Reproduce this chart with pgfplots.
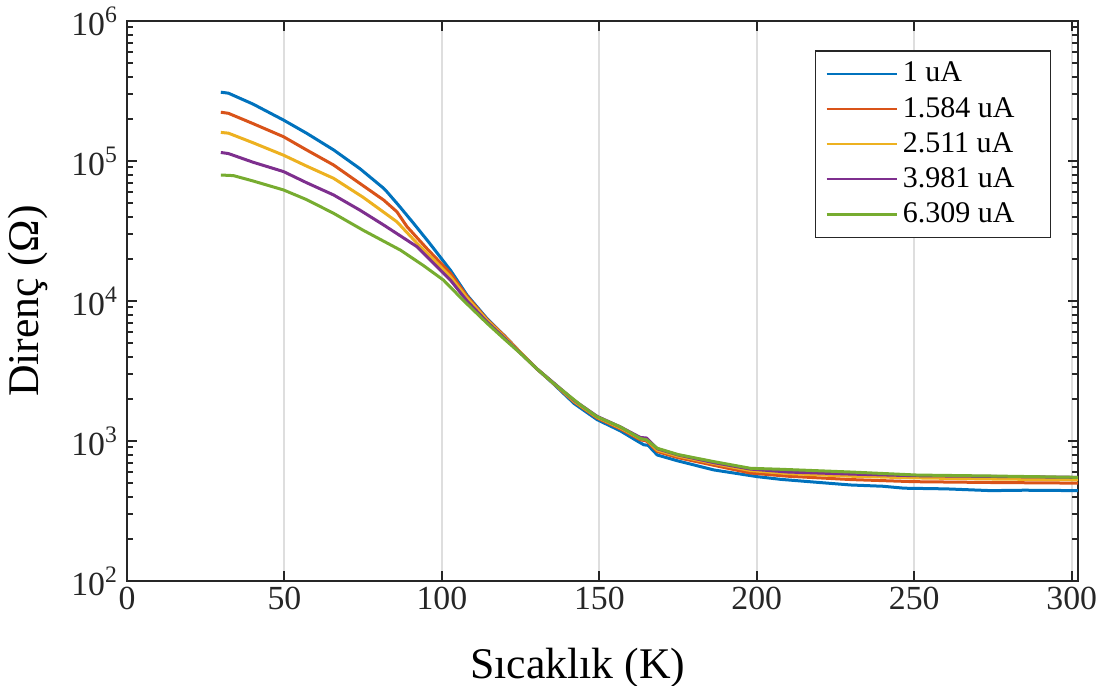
\documentclass[border=0pt]{standalone}
\usepackage{fontspec}
\setmainfont{Liberation Serif}
\usepackage{pgfplots}
\pgfplotsset{compat=1.18}
\definecolor{mblue}{HTML}{0072BD}
\definecolor{mred}{HTML}{D95319}
\definecolor{myellow}{HTML}{EDB120}
\definecolor{mpurple}{HTML}{7E2F8E}
\definecolor{mgreen}{HTML}{77AC30}
\definecolor{axgray}{HTML}{262626}
\newcommand{\lent}[1]{\makebox[53pt][l]{#1}}

\begin{document}
\begin{tikzpicture}
\begin{axis}[
  scale only axis,
  width=380.4pt, height=224pt,
  ymode=log,
  xmin=0, xmax=302,
  ymin=1e2, ymax=1e6,
  xtick={0,50,100,150,200,250,300},
  ytick={1e2,1e3,1e4,1e5,1e6},
  yticklabels={10\textsuperscript{2},10\textsuperscript{3},10\textsuperscript{4},10\textsuperscript{5},10\textsuperscript{6}},
  /pgf/number format/assume math mode=true,
  tick label style={font=\fontsize{13.5}{15}\selectfont, text=axgray},
  xticklabel style={yshift=1pt},
  xmajorgrids,
  major grid style={draw=black!13, line width=0.8pt},
  tick align=inside,
  major tick length=4pt,
  minor tick length=2.5pt,
  every tick/.style={axgray, line width=0.8pt},
  axis line style={axgray, line width=1pt},
  xlabel={Sıcaklık (K)},
  ylabel={Direnç (Ω)},
  label style={font=\fontsize{17.5}{20}\selectfont},
  xlabel style={at={(axis description cs:0.474,-0.174)}, anchor=base},
  ylabel style={at={(axis description cs:-0.104,0.5)}, anchor=center},
  legend style={at={(rel axis cs:0.9716,0.948)}, anchor=north east,
    font=\fontsize{12}{15.2}\selectfont, draw=axgray, line width=0.6pt,
    inner xsep=4pt, inner ysep=2.5pt, row sep=0.6pt},
  legend cell align=left,
  legend image code/.code={\draw[#1, line width=0.9pt] (0cm,0cm) -- (28pt,0cm);},
  every axis plot/.append style={line width=1.2pt, line join=round},
]
\addplot[mblue] coordinates {
(29.8,3.10e5) (32.2,3.05e5) (40,2.55e5) (49.7,1.96e5) (57,1.58e5) (65.6,1.20e5)
(74,8.8e4) (81.5,6.38e4) (82.5,6.04e4) (86,4.9e4) (90.9,3.61e4) (96,2.6e4)
(102.7,1.66e4) (108,1.1e4) (114.3,7.5e3) (120,5.6e3) (124.9,4.3e3) (130,3.3e3)
(135.5,2.55e3) (142,1.85e3) (149.3,1.42e3) (156.7,1.18e3) (162,1.0e3) (164.1,9.4e2)
(165.5,9.3e2) (168.4,7.94e2) (175,7.2e2) (186.4,6.21e2) (200.2,5.56e2) (207.6,5.32e2)
(220,5.05e2) (229.8,4.85e2) (240,4.75e2) (246.8,4.6e2) (260,4.55e2) (274.3,4.42e2)
(285,4.45e2) (302,4.42e2)
};
\addlegendentry{\lent{1 uA}}
\addplot[mred] coordinates {
(29.8,2.23e5) (32.2,2.19e5) (40,1.85e5) (49.7,1.49e5) (57,1.2e5) (65.6,9.36e4)
(74,6.9e4) (81.5,5.26e4) (85.7,4.34e4) (88.9,3.4e4) (95,2.4e4) (102.7,1.58e4)
(108,1.08e4) (114.3,7.4e3) (120,5.6e3) (124.9,4.3e3) (130,3.3e3) (135.5,2.57e3)
(142,1.9e3) (149.3,1.46e3) (156.7,1.22e3) (163,1.02e3) (165,1.0e3) (168.4,8.4e2)
(175,7.6e2) (186.4,6.7e2) (198,5.9e2) (210,5.6e2) (230,5.3e2) (250,5.12e2)
(275,5.05e2) (302,5.0e2)
};
\addlegendentry{\lent{1.584 uA}}
\addplot[myellow] coordinates {
(29.8,1.60e5) (32.2,1.58e5) (40,1.35e5) (49.7,1.10e5) (57,9.2e4) (65.6,7.52e4)
(75,5.5e4) (85.7,3.68e4) (92,2.6e4) (102.7,1.49e4) (108,1.05e4) (114.3,7.3e3)
(120,5.5e3) (124.9,4.3e3) (130,3.3e3) (135.5,2.58e3) (142,1.92e3) (149.3,1.48e3)
(156.7,1.24e3) (163,1.04e3) (165,1.02e3) (168.4,8.6e2) (175,7.8e2) (186.4,6.9e2)
(198,6.15e2) (210,5.85e2) (230,5.6e2) (250,5.45e2) (275,5.35e2) (302,5.28e2)
};
\addlegendentry{\lent{2.511 uA}}
\addplot[mpurple] coordinates {
(29.8,1.15e5) (32.2,1.13e5) (40,9.8e4) (49.7,8.4e4) (57,7.0e4) (65.6,5.72e4)
(74,4.45e4) (81.5,3.49e4) (87,2.9e4) (92.1,2.44e4) (102.7,1.41e4) (108,1.0e4)
(114.3,7.1e3) (120,5.4e3) (124.9,4.25e3) (130,3.3e3) (135.5,2.6e3) (142,1.95e3)
(149.3,1.5e3) (156.7,1.26e3) (163,1.06e3) (165,1.05e3) (168.4,8.8e2) (175,7.95e2)
(186.4,7.0e2) (198,6.3e2) (210,6.0e2) (230,5.8e2) (250,5.65e2) (275,5.58e2)
(302,5.5e2)
};
\addlegendentry{\lent{3.981 uA}}
\addplot[mgreen] coordinates {
(29.8,7.94e4) (33.8,7.86e4) (40,7.2e4) (49.7,6.21e4) (57,5.3e4) (65.6,4.23e4)
(75,3.2e4) (86.8,2.31e4) (94,1.8e4) (100.5,1.41e4) (107,1.0e4) (114.3,6.94e3)
(120,5.3e3) (124.9,4.23e3) (130,3.3e3) (135.5,2.58e3) (144,1.81e3) (149.3,1.49e3)
(156.7,1.26e3) (163.1,1.04e3) (165,1.02e3) (168.4,8.87e2) (175,8.0e2) (186.4,7.12e2)
(198,6.38e2) (207.6,6.28e2) (230,6.0e2) (251,5.71e2) (275,5.62e2) (302,5.5e2)
};
\addlegendentry{\lent{6.309 uA}}
\end{axis}
\pgfresetboundingbox
\path (current axis.south west) ++(-50.8pt,-42pt) rectangle ++(446pt,274.4pt);
\end{tikzpicture}
\end{document}
